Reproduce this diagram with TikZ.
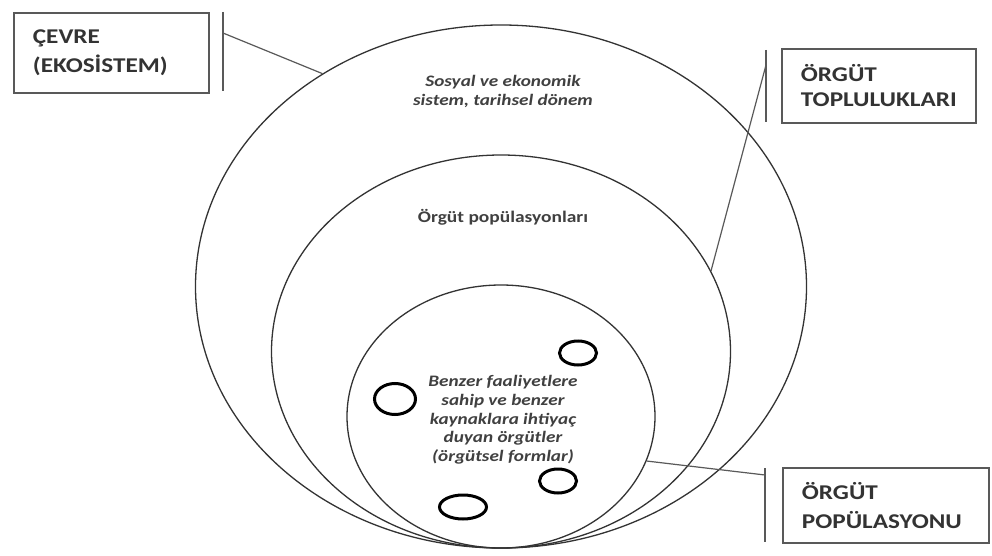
\documentclass[tikz,border=0pt]{standalone}
\usepackage{fontspec}
\setmainfont{Carlito}[FakeStretch=1.2]
\usetikzlibrary{shapes.geometric}
\begin{document}
\begin{tikzpicture}[x=1pt,y=-1pt,
  ring/.style={draw=black!80, line width=1.3pt, ellipse, inner sep=0pt},
  org/.style={draw=black, line width=3pt, ellipse, inner sep=0pt},
  labelbox/.style={draw=black!65, line width=1.8pt, inner xsep=19pt, inner ysep=0pt, align=left, text=black!80, font=\fontsize{21}{29}\selectfont\bfseries, anchor=north west},
  tick/.style={draw=black!65, line width=1.8pt},
  lead/.style={draw=black!65, line width=1.2pt},
  lbl/.style={text=black!75, align=center, inner sep=0pt}]
\useasboundingbox (0,0) rectangle (992,556);
\fill[white] (0,0) rectangle (992,556);

% nested populations
\node[ring, minimum width=611pt, minimum height=523pt] (outer) at (501,286.5) {};
\node[ring, minimum width=459pt, minimum height=393pt] (middle) at (501,351.5) {};
\node[ring, minimum width=308pt, minimum height=263pt] (inner) at (501,416.5) {};

% organisations
\node[org, minimum width=37pt, minimum height=24pt] (o1) at (578,353) {};
\node[org, minimum width=41pt, minimum height=31pt] (o2) at (395,399) {};
\node[org, minimum width=37pt, minimum height=24pt] (o3) at (558,481) {};
\node[org, minimum width=47pt, minimum height=24pt] (o4) at (463,507) {};

% texts inside
\node[lbl, font=\fontsize{16}{19}\selectfont\bfseries\itshape] (envtxt) at (503,91) {Sosyal ve ekonomik\\sistem, tarihsel dönem};
\node[lbl, font=\fontsize{16.2}{19}\selectfont\bfseries] (poptxt) at (503,217) {Örgüt popülasyonları};
\node[lbl, font=\fontsize{16}{18.7}\selectfont\bfseries\itshape] (orgtxt) at (503,420) {Benzer faaliyetlere\\sahip ve benzer\\kaynaklara ihtiyaç\\duyan örgütler\\(örgütsel formlar)};

% label boxes
\node[labelbox, minimum width=195pt, minimum height=80pt, text width=157pt] (cevre) at (13,12) {ÇEVRE\\(EKOSİSTEM)};
\node[labelbox, minimum width=194pt, minimum height=74pt, text width=156pt, font=\fontsize{21}{25}\selectfont\bfseries] (topl) at (781,48) {ÖRGÜT\\TOPLULUKLARI};
\node[labelbox, minimum width=206pt, minimum height=75pt, text width=168pt] (popu) at (782,467) {ÖRGÜT\\POPÜLASYONU};

% ticks
\coordinate (t1a) at (223,12); \coordinate (t1b) at (223,91); \coordinate (t1c) at (223,33);
\coordinate (t2a) at (766,50); \coordinate (t2b) at (766,122); \coordinate (t2c) at (766,65);
\coordinate (t3a) at (765,468); \coordinate (t3b) at (765,542); \coordinate (t3c) at (765,475);
\draw[tick] (t1a) -- (t1b);
\draw[tick] (t2a) -- (t2b);
\draw[tick] (t3a) -- (t3b);

% leader lines
\draw[lead] (t1c) -- (outer.130);
\draw[lead] (t2c) -- (middle.21);
\draw[lead] (t3c) -- (inner.-17);
\end{tikzpicture}
\end{document}
